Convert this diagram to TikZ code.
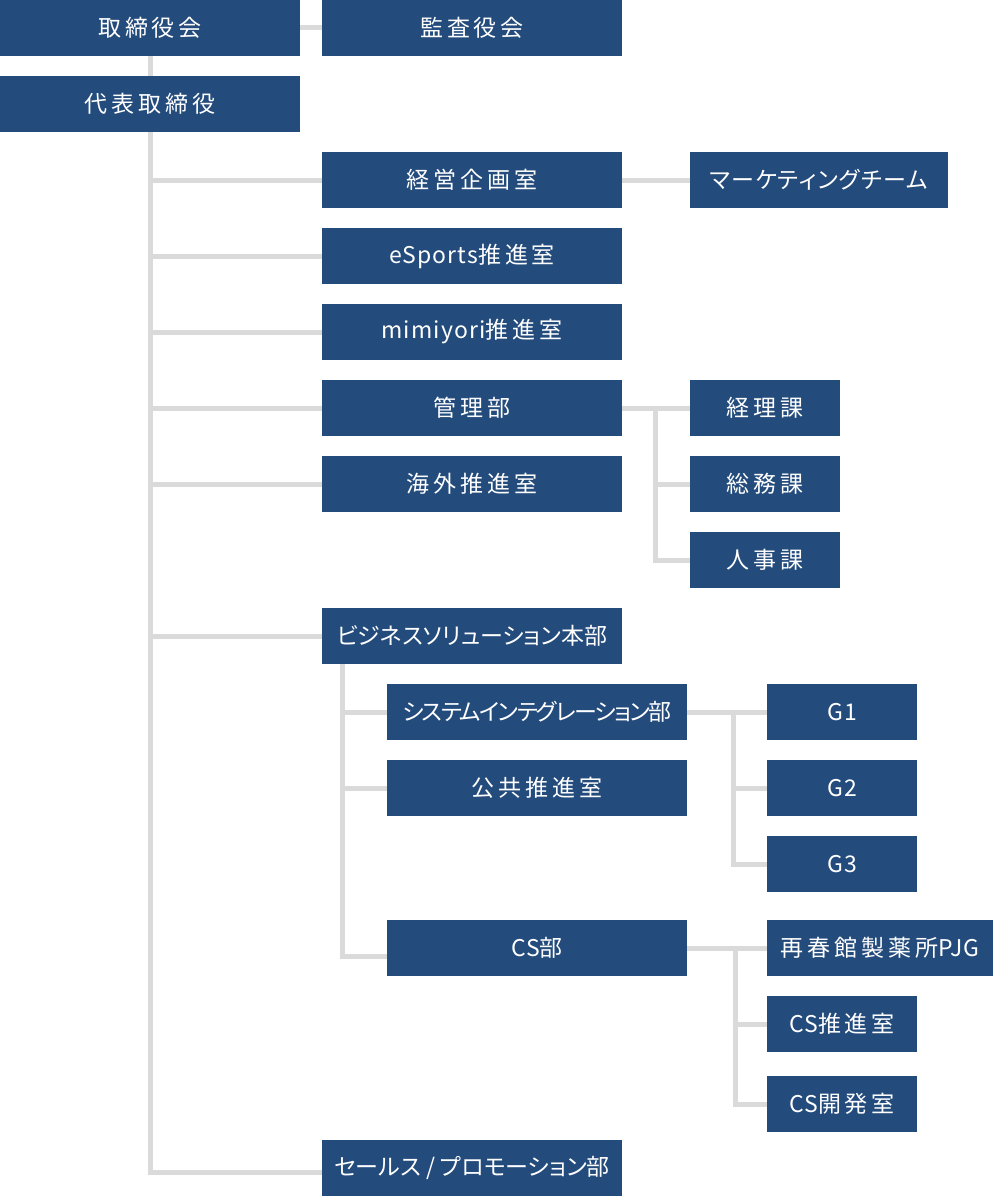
\documentclass[tikz,border=0pt]{standalone}
\usepackage{fontspec}
\setmainfont{Noto Sans CJK JP}
\newfontfamily\jp[RawFeature=+palt,LetterSpace=17]{Noto Sans CJK JP}
\newfontfamily\jplat[RawFeature=+palt,LetterSpace=5]{Noto Sans CJK JP}
\newfontfamily\kanaA[RawFeature=+palt,LetterSpace=5]{Noto Sans CJK JP}
\newfontfamily\kanaB[RawFeature=+palt,LetterSpace=0]{Noto Sans CJK JP}
\newfontfamily\kanaC[RawFeature=+palt,LetterSpace=-7]{Noto Sans CJK JP}
\newfontfamily\kanaD[RawFeature=+palt,LetterSpace=0]{Noto Sans CJK JP}
\definecolor{boxblue}{HTML}{234B7C}
\definecolor{linegray}{HTML}{DADADA}
\pgfdeclarelayer{bg}
\pgfsetlayers{bg,main}
\tikzset{
  orgbox/.style={fill=boxblue, text=white, minimum height=56pt, inner sep=0pt,
    font=\jp\fontsize{23}{23}\selectfont},
  wide/.style={orgbox, minimum width=300pt},
  narrow/.style={orgbox, minimum width=150pt},
  link/.style={draw=linegray, line width=5pt},
}
\begin{document}
\begin{tikzpicture}[x=1pt,y=-1pt]
\useasboundingbox (0,0) rectangle (993,1196);
% nodes
\node[wide] (tori) at (150,28) {取締役会};
\node[wide] (kansa) at (472,28) {監査役会};
\node[wide] (daihyo) at (150,104) {代表取締役};
\node[wide] (keiei) at (472,180) {経営企画室};
\node[orgbox, minimum width=258pt] (mkt) at (819,180) {{\kanaA マーケティングチーム}};
\node[wide] (esports) at (472,256) {{\jplat eSports}推進室};
\node[wide] (mimi) at (472,332) {{\jplat mimiyori}推進室};
\node[wide] (kanri) at (472,408) {管理部};
\node[wide] (kaigai) at (472,484) {海外推進室};
\node[narrow] (keiri) at (765,408) {経理課};
\node[narrow] (somu) at (765,484) {総務課};
\node[narrow] (jinji) at (765,560) {人事課};
\node[wide] (biz) at (472,636) {{\kanaB ビジネスソリューション本部}};
\node[wide] (si) at (537,712) {{\kanaC システムインテグレーション部}};
\node[wide] (kokyo) at (537,788) {公共推進室};
\node[narrow] (g1) at (842,712) {{\jplat G1}};
\node[narrow] (g2) at (842,788) {{\jplat G2}};
\node[narrow] (g3) at (842,864) {{\jplat G3}};
\node[wide] (cs) at (537,948) {{\jplat CS}部};
\node[orgbox, minimum width=226pt] (saishun) at (880,948) {再春館製薬所{\jplat PJG}};
\node[narrow] (cspush) at (842,1024) {{\jplat CS}推進室};
\node[narrow] (csdev) at (842,1104) {{\jplat CS}開発室};
\node[wide] (sales) at (472,1168) {{\kanaD セールス / プロモーション部}};
% junction columns
\coordinate (kj) at (655,0);
\coordinate (bj) at (342,0);
\coordinate (gj) at (733.5,0);
\coordinate (cj) at (735,0);
\begin{pgfonlayer}{bg}
\draw[link] (tori.east) -- (kansa.west);
\draw[link] (tori.south) |- ([yshift=-4pt]sales.west);
\draw[link] (tori.south |- keiei.west) -- (keiei.west);
\draw[link] (tori.south |- esports.west) -- (esports.west);
\draw[link] (tori.south |- mimi.west) -- (mimi.west);
\draw[link] (tori.south |- kanri.west) -- (kanri.west);
\draw[link] (tori.south |- kaigai.west) -- (kaigai.west);
\draw[link] (tori.south |- biz.west) -- (biz.west);
\draw[link] (keiei.east) -- (mkt.west);
\draw[link] (kanri.east) -- (keiri.west);
\draw[link] (kj |- keiri.west) |- (jinji.west);
\draw[link] (kj |- somu.west) -- (somu.west);
\draw[link] (bj |- biz.south) |- ([yshift=-8pt]cs.west);
\draw[link] (bj |- si.west) -- (si.west);
\draw[link] (bj |- kokyo.west) -- (kokyo.west);
\draw[link] (si.east) -- (g1.west);
\draw[link] (gj |- g1.west) |- (g3.west);
\draw[link] (gj |- g2.west) -- (g2.west);
\draw[link] (cs.east) -- (saishun.west);
\draw[link] (cj |- saishun.west) |- (csdev.west);
\draw[link] (cj |- cspush.west) -- (cspush.west);
\end{pgfonlayer}
\end{tikzpicture}
\end{document}
